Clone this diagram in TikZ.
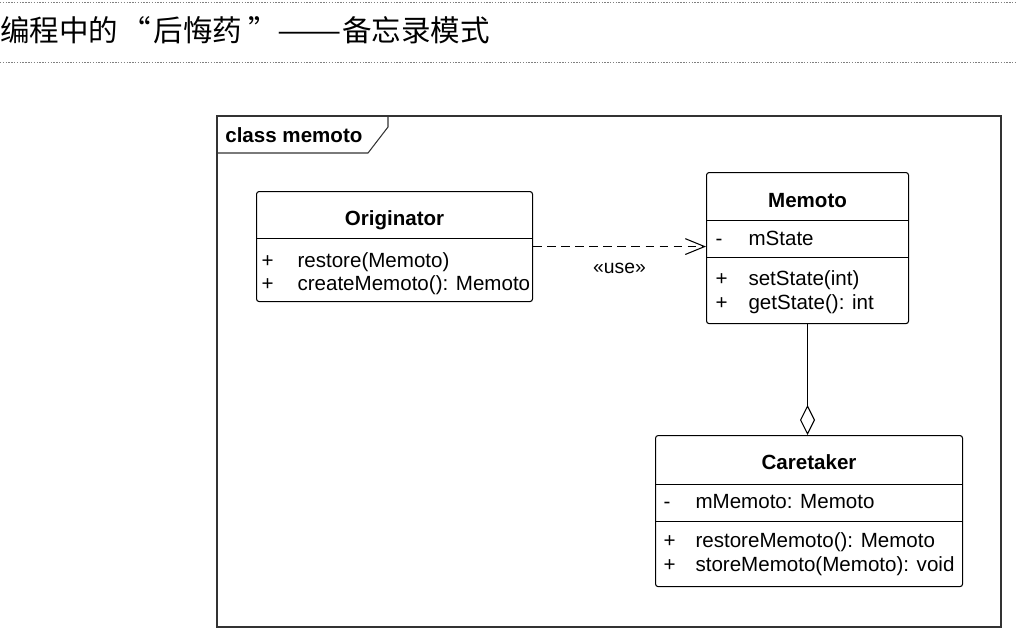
\documentclass[tikz,border=0pt]{standalone}
\usepackage{fontspec}
\usepackage{array}
\usepackage{graphicx}
\usepackage{tikz}
\usetikzlibrary{arrows.meta}
\setmainfont{Liberation Sans}
\newfontfamily\cjk{Noto Sans CJK SC}
\newlength{\umlpx}
\setlength{\umlpx}{0.02cm}
\newcommand{\rs}[2]{\rule[-#2\umlpx]{0pt}{\dimexpr#1\umlpx+#2\umlpx\relax}}
\renewcommand{\arraystretch}{0}
\setlength{\arrayrulewidth}{0.6pt}

\begin{document}
\begin{tikzpicture}[x=0.02cm, y=-0.02cm,
	classbox/.style={draw, rounded corners=1.5pt, inner sep=0pt, line width=0.6pt, anchor=north west, font=\fontsize{11.7}{14}\selectfont},
	dotrule/.style={gray, line width=0.5pt, dash pattern=on 0.8pt off 0.8pt},
	framebox/.style={black!80, line width=0.6pt},
	usearrow/.style={dash pattern=on 5pt off 3pt, line width=0.6pt, -{Straight Barb[length=11pt, width=9pt]}},
	aggarrow/.style={line width=0.6pt, -{Diamond[open, length=0.6cm, width=0.3cm]}}]
			\useasboundingbox (0,0) rectangle (1016,630);
			\draw[dotrule] (0,2) -- (1016,2);
			\draw[dotrule] (0,62) -- (1016,62);
			\node(title)[anchor=west, inner sep=0pt, font=\cjk\fontsize{16.8}{20}\selectfont] at (0,30)
				{编程中的\makebox[1.2em][c]{“}后悔药\makebox[1.2em][r]{”}\scalebox{1.3}[1]{——}备忘录模式};

			\draw[framebox] (217,116) rectangle (1001,627);
			\draw[framebox] (217,153) -- (368,153) -- (388,127) -- (388,116);
			\node(frametag)[anchor=west, inner sep=0pt, font=\fontsize{11.7}{14}\selectfont\bfseries] at (225,135) {class memoto};

			\node(originator)[classbox] at (256,191)
			{
				\begin{tabular}{@{\hspace{5\umlpx}}w{l}{36\umlpx}@{}w{l}{235\umlpx}@{}}
					\multicolumn{2}{@{}c@{}}{\bfseries Originator\rs{34}{12}} \\
					\hline
					+ & restore(Memoto)\rs{29}{7} \\
					+ & createMemoto(): Memoto\rs{16}{11} \\
				\end{tabular}
			};

			\node(memoto)[classbox] at (706,172)
			{
				\begin{tabular}{@{\hspace{9\umlpx}}w{l}{33\umlpx}@{}w{l}{160\umlpx}@{}}
					\multicolumn{2}{@{}c@{}}{\bfseries Memoto\rs{35}{12}} \\
					\hline
					- & mState\rs{25}{11} \\
					\hline
					+ & setState(int)\rs{28}{7} \\
					+ & getState(): int\rs{17}{14} \\
				\end{tabular}
			};

			\node(caretaker)[classbox] at (655,435)
			{
				\begin{tabular}{@{\hspace{8\umlpx}}w{l}{32\umlpx}@{}w{l}{267\umlpx}@{}}
					\multicolumn{2}{@{}c@{}}{\bfseries Caretaker\rs{34}{14}} \\
					\hline
					- & mMemoto: Memoto\rs{24}{12} \\
					\hline
					+ & restoreMemoto(): Memoto\rs{26}{7} \\
					+ & storeMemoto(Memoto): void\rs{17}{15} \\
				\end{tabular}
			};

			\draw[usearrow] (originator.east) -- (originator.east -| memoto.west)
				node[midway, yshift=-0.44cm, font=\fontsize{11}{13}\selectfont] (uselabel) {«use»};
			\draw[aggarrow] (memoto.south) -- (memoto.south |- caretaker.north);
		\end{tikzpicture}
\end{document}
